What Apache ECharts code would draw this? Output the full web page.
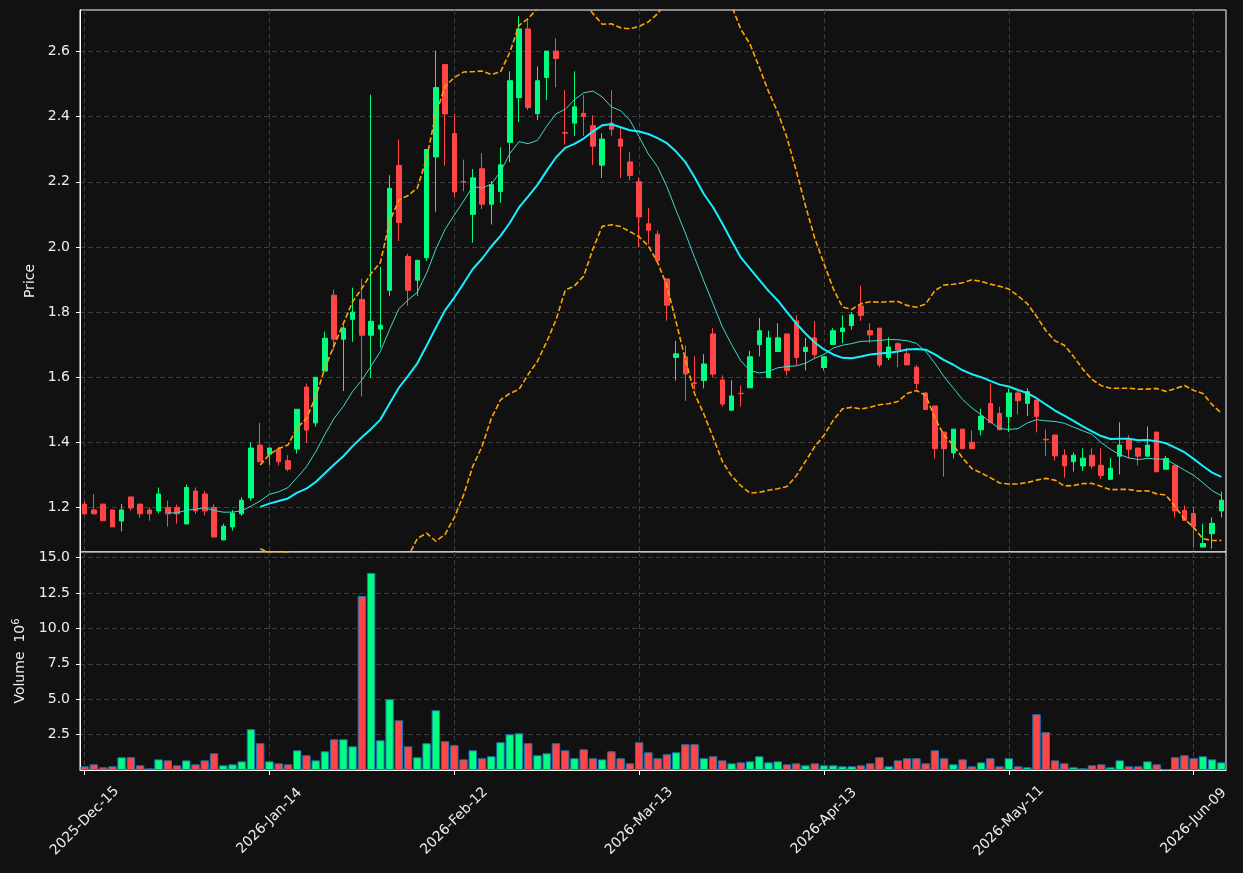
<!DOCTYPE html>
<html>
<head>
<meta charset="utf-8">
<title>Price / Volume</title>
<script src="https://cdn.jsdelivr.net/npm/echarts@6/dist/echarts.min.js"></script>
<style>
  html, body { margin: 0; padding: 0; background: #111111; }
  #chart { width: 1243px; height: 873px; }
</style>
</head>
<body>
<div id="chart"></div>
<script>
// trading days (NYSE calendar)
const dates = [
  "2025-Dec-15","2025-Dec-16","2025-Dec-17","2025-Dec-18","2025-Dec-19","2025-Dec-22","2025-Dec-23","2025-Dec-24","2025-Dec-26","2025-Dec-29",
  "2025-Dec-30","2025-Dec-31","2026-Jan-02","2026-Jan-05","2026-Jan-06","2026-Jan-07","2026-Jan-08","2026-Jan-09","2026-Jan-12","2026-Jan-13",
  "2026-Jan-14","2026-Jan-15","2026-Jan-16","2026-Jan-20","2026-Jan-21","2026-Jan-22","2026-Jan-23","2026-Jan-26","2026-Jan-27","2026-Jan-28",
  "2026-Jan-29","2026-Jan-30","2026-Feb-02","2026-Feb-03","2026-Feb-04","2026-Feb-05","2026-Feb-06","2026-Feb-09","2026-Feb-10","2026-Feb-11",
  "2026-Feb-12","2026-Feb-13","2026-Feb-17","2026-Feb-18","2026-Feb-19","2026-Feb-20","2026-Feb-23","2026-Feb-24","2026-Feb-25","2026-Feb-26",
  "2026-Feb-27","2026-Mar-02","2026-Mar-03","2026-Mar-04","2026-Mar-05","2026-Mar-06","2026-Mar-09","2026-Mar-10","2026-Mar-11","2026-Mar-12",
  "2026-Mar-13","2026-Mar-16","2026-Mar-17","2026-Mar-18","2026-Mar-19","2026-Mar-20","2026-Mar-23","2026-Mar-24","2026-Mar-25","2026-Mar-26",
  "2026-Mar-27","2026-Mar-30","2026-Mar-31","2026-Apr-01","2026-Apr-02","2026-Apr-06","2026-Apr-07","2026-Apr-08","2026-Apr-09","2026-Apr-10",
  "2026-Apr-13","2026-Apr-14","2026-Apr-15","2026-Apr-16","2026-Apr-17","2026-Apr-20","2026-Apr-21","2026-Apr-22","2026-Apr-23","2026-Apr-24",
  "2026-Apr-27","2026-Apr-28","2026-Apr-29","2026-Apr-30","2026-May-01","2026-May-04","2026-May-05","2026-May-06","2026-May-07","2026-May-08",
  "2026-May-11","2026-May-12","2026-May-13","2026-May-14","2026-May-15","2026-May-18","2026-May-19","2026-May-20","2026-May-21","2026-May-22",
  "2026-May-26","2026-May-27","2026-May-28","2026-May-29","2026-Jun-01","2026-Jun-02","2026-Jun-03","2026-Jun-04","2026-Jun-05","2026-Jun-08",
  "2026-Jun-09","2026-Jun-10","2026-Jun-11","2026-Jun-12"
];

const opens = [
  1.211,1.193,1.211,1.193,1.159,1.233,1.211,1.193,1.190,1.201,
  1.201,1.150,1.251,1.242,1.201,1.101,1.141,1.181,1.230,1.392,
  1.364,1.380,1.344,1.380,1.570,1.460,1.619,1.852,1.717,1.778,
  1.839,1.729,1.748,1.867,2.250,1.971,1.898,1.967,2.276,2.560,
  2.348,2.201,2.100,2.240,2.131,2.170,2.321,2.458,2.669,2.409,
  2.520,2.601,2.351,2.380,2.410,2.372,2.251,2.380,2.331,2.261,
  2.200,2.071,2.039,1.902,1.661,1.663,1.583,1.590,1.733,1.592,
  1.499,1.551,1.568,1.700,1.599,1.679,1.733,1.773,1.679,1.721,
  1.630,1.701,1.740,1.759,1.819,1.743,1.751,1.661,1.703,1.672,
  1.631,1.552,1.512,1.432,1.368,1.441,1.401,1.439,1.520,1.489,
  1.479,1.552,1.520,1.530,1.410,1.423,1.361,1.341,1.328,1.361,
  1.330,1.287,1.358,1.409,1.383,1.358,1.432,1.318,1.329,1.192,
  1.182,1.079,1.120,1.190
];
const highs = [
  1.220,1.242,1.211,1.193,1.211,1.233,1.211,1.201,1.262,1.222,
  1.210,1.271,1.262,1.251,1.211,1.151,1.193,1.232,1.400,1.460,
  1.384,1.387,1.361,1.502,1.581,1.600,1.740,1.869,1.760,1.875,
  1.902,2.467,1.939,2.220,2.330,1.979,1.959,2.299,2.602,2.560,
  2.409,2.268,2.239,2.288,2.202,2.306,2.539,2.708,2.696,2.554,
  2.601,2.640,2.481,2.539,2.466,2.404,2.349,2.481,2.364,2.292,
  2.214,2.120,2.050,1.902,1.712,1.698,1.665,1.671,1.751,1.606,
  1.591,1.575,1.681,1.782,1.743,1.766,1.733,1.791,1.721,1.773,
  1.663,1.751,1.790,1.800,1.881,1.766,1.751,1.723,1.708,1.689,
  1.638,1.556,1.512,1.432,1.441,1.441,1.437,1.504,1.582,1.510,
  1.565,1.558,1.566,1.530,1.440,1.423,1.379,1.369,1.382,1.382,
  1.382,1.352,1.462,1.422,1.383,1.449,1.432,1.359,1.329,1.207,
  1.202,1.151,1.170,1.249
];
const lows = [
  1.180,1.181,1.160,1.141,1.127,1.191,1.169,1.160,1.183,1.142,
  1.151,1.150,1.181,1.176,1.110,1.101,1.130,1.175,1.221,1.341,
  1.330,1.330,1.312,1.366,1.400,1.448,1.619,1.683,1.558,1.709,
  1.541,1.599,1.691,1.850,2.018,1.819,1.850,1.957,2.108,2.249,
  2.153,2.171,2.013,2.116,2.069,2.135,2.260,2.383,2.420,2.389,
  2.451,2.490,2.314,2.341,2.341,2.252,2.212,2.341,2.212,2.204,
  1.998,2.008,1.955,1.774,1.590,1.528,1.561,1.566,1.601,1.510,
  1.499,1.510,1.568,1.664,1.599,1.679,1.606,1.638,1.621,1.658,
  1.621,1.701,1.705,1.746,1.773,1.705,1.631,1.653,1.631,1.638,
  1.564,1.501,1.351,1.295,1.351,1.381,1.381,1.422,1.461,1.439,
  1.432,1.486,1.482,1.431,1.358,1.345,1.292,1.311,1.313,1.320,
  1.288,1.287,1.302,1.351,1.330,1.358,1.310,1.318,1.170,1.161,
  1.079,1.079,1.074,1.170
];
const closes = [
  1.181,1.181,1.160,1.141,1.193,1.199,1.181,1.181,1.242,1.181,
  1.181,1.262,1.190,1.190,1.110,1.143,1.183,1.223,1.383,1.341,
  1.383,1.341,1.318,1.502,1.438,1.600,1.720,1.717,1.751,1.800,
  1.729,1.772,1.760,2.180,2.075,1.867,1.959,2.299,2.489,2.408,
  2.169,2.199,2.212,2.131,2.191,2.252,2.510,2.669,2.428,2.510,
  2.601,2.578,2.349,2.430,2.400,2.309,2.331,2.361,2.309,2.219,
  2.092,2.051,1.958,1.821,1.672,1.610,1.581,1.641,1.610,1.518,
  1.543,1.550,1.663,1.743,1.721,1.721,1.621,1.661,1.692,1.669,
  1.663,1.743,1.751,1.792,1.790,1.730,1.638,1.693,1.684,1.638,
  1.581,1.501,1.381,1.381,1.441,1.381,1.381,1.481,1.461,1.439,
  1.552,1.528,1.556,1.479,1.408,1.359,1.328,1.361,1.352,1.328,
  1.299,1.321,1.392,1.379,1.358,1.392,1.310,1.351,1.190,1.161,
  1.141,1.090,1.152,1.223
];
// volume in millions
const volumes = [
  0.26,0.40,0.19,0.26,0.90,0.90,0.33,0.12,0.75,0.68,
  0.33,0.68,0.40,0.68,1.18,0.33,0.40,0.61,2.88,1.89,
  0.61,0.47,0.40,1.39,1.04,0.68,1.32,2.17,2.17,1.67,
  12.29,13.92,2.10,5.00,3.51,1.67,0.90,1.89,4.22,2.03,
  1.75,0.75,1.39,0.83,0.97,1.96,2.52,2.59,1.89,1.04,
  1.18,1.89,1.39,0.83,1.46,0.83,0.75,1.32,0.83,0.47,
  1.96,1.25,0.83,1.11,1.25,1.82,1.82,0.83,0.97,0.68,
  0.47,0.54,0.61,0.97,0.54,0.61,0.40,0.47,0.33,0.47,
  0.33,0.33,0.26,0.26,0.33,0.47,0.90,0.26,0.68,0.83,
  0.83,0.47,1.39,0.83,0.40,0.75,0.26,0.54,0.83,0.26,
  0.83,0.26,0.19,3.94,2.67,0.68,0.47,0.19,0.12,0.33,
  0.40,0.19,0.68,0.26,0.26,0.61,0.40,0.05,0.90,1.04,
  0.83,0.97,0.75,0.54
];

const priceTicks = [1.2, 1.4, 1.6, 1.8, 2.0, 2.2, 2.4, 2.6];
const volumeTicks = [2.5, 5.0, 7.5, 10.0, 12.5, 15.0];

const UP = "#00ff80";
const DOWN = "#ff4545";
const FONT = "DejaVu Sans";
const TEXT = "#eeeeee";
const GRID_LINE = { color: "#3d3d3d", width: 1, type: [5, 3] };

// moving average / bollinger from closes
function rollingMean(arr, n) {
  return arr.map((v, i) => {
    if (i < n - 1) return "-";
    let s = 0;
    for (let j = i - n + 1; j <= i; j++) s += arr[j];
    return s / n;
  });
}
function rollingStd(arr, n) {
  const m = rollingMean(arr, n);
  return arr.map((v, i) => {
    if (i < n - 1) return "-";
    let s = 0;
    for (let j = i - n + 1; j <= i; j++) s += (arr[j] - m[i]) ** 2;
    return Math.sqrt(s / (n - 1));
  });
}

const ma10 = rollingMean(closes, 10);
const ma20 = rollingMean(closes, 20);
const sd20 = rollingStd(closes, 20);
const upper = ma20.map((m, i) => m === "-" ? "-" : m + 2 * sd20[i]);
const lower = ma20.map((m, i) => m === "-" ? "-" : m - 2 * sd20[i]);

const candles = dates.map((d, i) => [opens[i], closes[i], lows[i], highs[i]]);
const volBars = volumes.map((v, i) => ({
  value: v,
  itemStyle: { color: closes[i] >= opens[i] ? UP : DOWN }
}));

const chart = echarts.init(document.getElementById("chart"));
chart.setOption({
  backgroundColor: "#111111",
  animation: false,
  grid: [
    { left: 80, top: 10, width: 1146, height: 542, show: true, borderColor: "#ffffff", borderWidth: 1, backgroundColor: "#111111" },
    { left: 80, top: 552, width: 1146, height: 218, show: true, borderColor: "#ffffff", borderWidth: 1, backgroundColor: "#111111" }
  ],
  xAxis: [
    {
      type: "category", gridIndex: 0, data: dates, boundaryGap: true,
      axisLine: { show: false }, axisTick: { show: false }, axisLabel: { show: false },
      splitLine: { show: true, interval: 19, alignWithLabel: true, lineStyle: GRID_LINE }
    },
    {
      type: "category", gridIndex: 1, data: dates, boundaryGap: true,
      axisLine: { show: true, lineStyle: { color: "#ffffff" } },
      axisTick: { show: true, interval: 19, alignWithLabel: true, length: 5, lineStyle: { color: "#ffffff" } },
      axisLabel: {
        interval: 19, rotate: 45, align: "center", verticalAlign: "middle", margin: 51,
        color: TEXT, fontSize: 14, fontFamily: FONT
      },
      splitLine: { show: true, interval: 19, alignWithLabel: true, lineStyle: GRID_LINE }
    }
  ],
  yAxis: [
    {
      type: "value", gridIndex: 0, min: 1.064, max: 2.727, position: "left",
      name: "Price", nameLocation: "middle", nameGap: 43, nameRotate: 90, nameMoveOverlap: false,
      nameTextStyle: { color: TEXT, fontSize: 14, fontFamily: FONT },
      axisLine: { show: true, lineStyle: { color: "#ffffff" } },
      axisTick: { show: true, length: 4, customValues: priceTicks, lineStyle: { color: "#ffffff" } },
      axisLabel: { customValues: priceTicks, formatter: v => v.toFixed(1), color: TEXT, fontSize: 14, fontFamily: FONT, margin: 10 },
      splitLine: { show: true, lineStyle: GRID_LINE }
    },
    {
      type: "value", gridIndex: 1, min: 0, max: 15.4, position: "left",
      name: "Volume  10{sup|6}", nameLocation: "middle", nameGap: 50, nameRotate: 90, nameMoveOverlap: false,
      nameTextStyle: {
        color: TEXT, fontSize: 14, fontFamily: FONT,
        rich: { sup: { color: TEXT, fontSize: 10, fontFamily: FONT, padding: [0, 0, 9, 0] } }
      },
      axisLine: { show: true, lineStyle: { color: "#ffffff" } },
      axisTick: { show: true, length: 4, customValues: volumeTicks, lineStyle: { color: "#ffffff" } },
      axisLabel: { customValues: volumeTicks, formatter: v => v.toFixed(1), color: TEXT, fontSize: 14, fontFamily: FONT, margin: 10 },
      splitLine: { show: true, lineStyle: GRID_LINE }
    }
  ],
  series: [
    {
      name: "OHLC", type: "candlestick", xAxisIndex: 0, yAxisIndex: 0,
      data: candles, barWidth: 5,
      itemStyle: { color: UP, color0: DOWN, borderColor: UP, borderColor0: DOWN, borderWidth: 1 }
    },
    {
      name: "MA10", type: "line", xAxisIndex: 0, yAxisIndex: 0, data: ma10,
      showSymbol: false, lineStyle: { color: "#40d8cc", width: 1 }
    },
    {
      name: "MA20", type: "line", xAxisIndex: 0, yAxisIndex: 0, data: ma20,
      showSymbol: false, lineStyle: { color: "#14f0ff", width: 2 }
    },
    {
      name: "Upper", type: "line", xAxisIndex: 0, yAxisIndex: 0, data: upper,
      showSymbol: false, lineStyle: { color: "#ffa500", width: 1.6, type: [5.5, 2.5] }
    },
    {
      name: "Lower", type: "line", xAxisIndex: 0, yAxisIndex: 0, data: lower,
      showSymbol: false, lineStyle: { color: "#ffa500", width: 1.6, type: [5.5, 2.5] }
    },
    {
      name: "Volume", type: "bar", xAxisIndex: 1, yAxisIndex: 1, data: volBars,
      barCategoryGap: "9%",
      itemStyle: { borderColor: "#1f77b4", borderWidth: 1 }
    }
  ]
});
</script>
</body>
</html>
